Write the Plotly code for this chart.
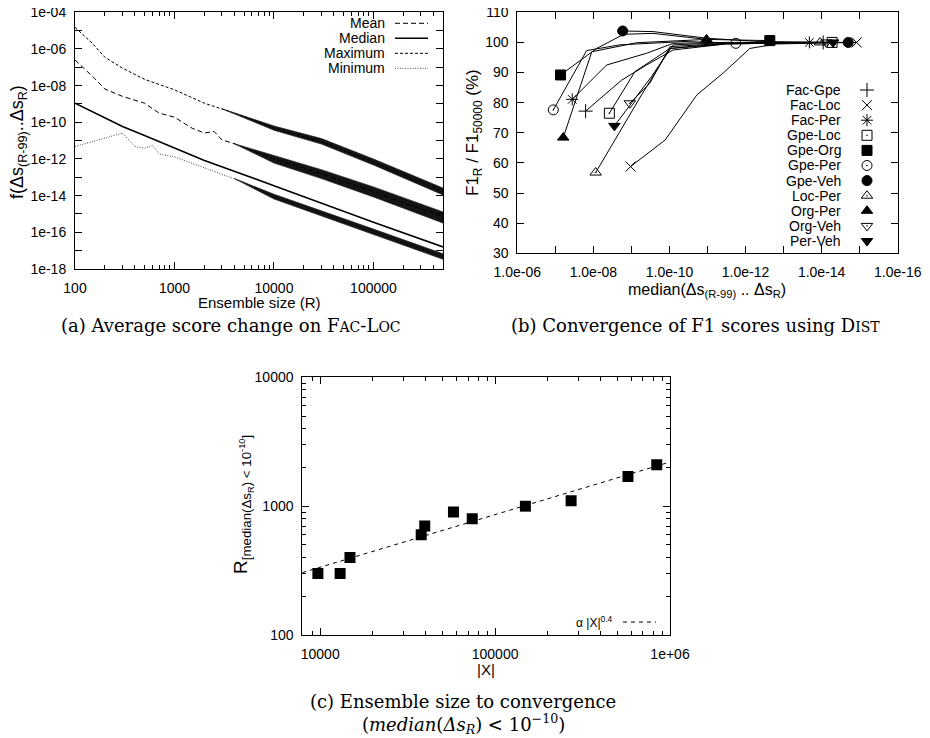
import math
import plotly.graph_objects as go

W, H = 930, 738
OFF = 8  # page body margin in the browser

# ---------------- Panel (a): score change vs ensemble size ----------------
max_R = [100, 150, 200, 300, 500, 1000, 2000, 5000, 10000, 30000, 100000, 500000]
max_val = [1.5e-5, 2e-6, 3.5e-7, 9e-8, 2.2e-8, 5.9e-9, 1.1e-9, 2.1e-10, 4.8e-11, 8.9e-12, 6.7e-13, 1.7e-14]
max_band_R = [3000, 10000, 30000, 100000, 500000]
max_band_hi = [5.5e-10, 6.3e-11, 1.3e-11, 1.0e-12, 2.6e-14]
max_band_lo = [5.5e-10, 3.7e-11, 6.5e-12, 4.7e-13, 1.1e-14]

mean_R = [100, 150, 200, 300, 500, 700, 1000, 1500, 2000, 2500, 3000, 4000, 7000, 10000, 20000, 50000, 100000, 200000, 500000]
mean_val = [2.5e-7, 3.2e-8, 6.5e-9, 2.6e-9, 1.1e-9, 3.2e-10, 1.9e-10, 4.8e-11, 2.6e-11, 3.2e-11, 1.1e-11, 6.8e-12, 2.1e-12, 1e-12, 3.2e-13, 6e-14, 1.7e-14, 4e-15, 7.4e-16]
mean_band_R = [4000, 10000, 30000, 100000, 500000]
mean_band_hi = [6.8e-12, 1.5e-12, 2.6e-13, 3.0e-14, 1.3e-15]
mean_band_lo = [6.8e-12, 6.0e-13, 8.5e-14, 8.5e-15, 3.2e-16]

median_R = [100, 200, 300, 500, 1000, 2000, 10000, 100000, 500000]
median_val = [1.1e-9, 1.7e-10, 5.9e-11, 1.9e-11, 3.9e-12, 8.3e-13, 3.5e-14, 3.5e-16, 1.6e-17]

min_R = [100, 300, 400, 500, 600, 700, 1000, 2000, 3000, 5000, 10000, 100000, 500000]
min_val = [4.8e-12, 2.6e-11, 4.8e-12, 3.9e-12, 5.5e-12, 1.9e-12, 1.3e-12, 3.2e-13, 1.4e-13, 5.3e-14, 8.9e-15, 1.1e-16, 4.9e-18]
min_band_R = [4000, 10000, 100000, 500000]
min_band_hi = [8.5e-14, 1.2e-14, 1.5e-16, 6.8e-18]
min_band_lo = [8.5e-14, 6.6e-15, 7.5e-17, 3.4e-18]

a_xticks = [100, 1000, 10000, 100000]
a_xticktext = ["100", "1000", "10000", "100000"]
a_yticks = [1e-4, 1e-6, 1e-8, 1e-10, 1e-12, 1e-14, 1e-16, 1e-18]
a_yticktext = ["1e-04", "1e-06", "1e-08", "1e-10", "1e-12", "1e-14", "1e-16", "1e-18"]
a_legend = ["Mean", "Median", "Maximum", "Minimum"]

# ---------------- Panel (b): convergence of F1 ----------------
fac_gpe_x = [1.6e-8, 1.8e-9, 4.0e-10, 8.0e-11, 3.2e-12, 9.1e-15]
fac_gpe_y = [77.2, 87.5, 92.5, 97.5, 99.5, 100.0]
fac_loc_x = [1.05e-9, 1.3e-10, 1.9e-11, 3.9e-12, 7.7e-13, 1.5e-13, 1.2e-15]
fac_loc_y = [58.8, 67.6, 82.6, 89.8, 98.0, 99.5, 100.0]
fac_per_x = [3.6e-8, 4.5e-9, 4.0e-10, 8.0e-11, 3.2e-12, 2.1e-14]
fac_per_y = [81.1, 92.5, 96.4, 99.7, 100.0, 100.0]
gpe_loc_x = [3.8e-9, 8.1e-10, 9.7e-11, 3.2e-12, 5.3e-15]
gpe_loc_y = [76.5, 90.3, 98.0, 99.5, 100.0]
gpe_org_x = [7.3e-8, 8.2e-9, 1.6e-9, 2.7e-10, 1.06e-11, 2.3e-13]
gpe_org_y = [89.2, 98.0, 102.7, 103.0, 101.0, 100.6]
gpe_per_x = [1.13e-7, 1.5e-8, 2.0e-9, 3.9e-11, 1.8e-12]
gpe_per_y = [77.6, 97.3, 99.2, 100.3, 99.7]
gpe_veh_x = [1.7e-9, 2.7e-10, 1.06e-11, 4.2e-13, 2.0e-15]
gpe_veh_y = [103.8, 103.6, 101.4, 100.3, 100.0]
loc_per_x = [8.7e-9, 5.4e-10, 9.7e-11, 3.2e-12, 1.1e-14]
loc_per_y = [56.8, 82.6, 98.0, 99.7, 100.0]
org_per_x = [6.2e-8, 1.1e-8, 7.3e-10, 1.06e-11]
org_per_y = [68.4, 96.9, 99.9, 101.0]
org_veh_x = [1.1e-9, 3.3e-10, 9.7e-11, 3.2e-12, 7.5e-15]
org_veh_y = [79.8, 86.4, 98.6, 99.7, 100.0]
per_veh_x = [2.8e-9, 3.0e-10, 8.0e-11, 3.2e-12, 5.0e-15]
per_veh_y = [72.3, 88.6, 99.2, 99.9, 100.0]

b_names = ["Fac-Gpe", "Fac-Loc", "Fac-Per", "Gpe-Loc", "Gpe-Org", "Gpe-Per",
           "Gpe-Veh", "Loc-Per", "Org-Per", "Org-Veh", "Per-Veh"]
b_xs = [fac_gpe_x, fac_loc_x, fac_per_x, gpe_loc_x, gpe_org_x, gpe_per_x,
        gpe_veh_x, loc_per_x, org_per_x, org_veh_x, per_veh_x]
b_ys = [fac_gpe_y, fac_loc_y, fac_per_y, gpe_loc_y, gpe_org_y, gpe_per_y,
        gpe_veh_y, loc_per_y, org_per_y, org_veh_y, per_veh_y]
b_xticks = [1e-6, 1e-8, 1e-10, 1e-12, 1e-14, 1e-16]
b_xticktext = ["1.0e-06", "1.0e-08", "1.0e-10", "1.0e-12", "1.0e-14", "1.0e-16"]

# ---------------- Panel (c): ensemble size to convergence ----------------
c_X = [9700, 13000, 14800, 37800, 39600, 57800, 74000, 149000, 272000, 575000, 840000]
c_R = [300, 300, 400, 600, 700, 900, 800, 1000, 1100, 1700, 2100]
fit_X = [7900, 1000000]
fit_R = [305, 2200]
c_xticks = [10000, 100000, 1000000]
c_xticktext = ["10000", "100000", "1e+06"]
c_yticks = [100, 1000, 10000]
c_yticktext = ["100", "1000", "10000"]

# ---------------- styling ----------------
SANS = "Liberation Sans"
SERIF = "DejaVu Serif"
b_symbols = ["cross-thin-open", "x-thin-open", "asterisk-open", "square-open-dot", "square",
             "circle-open-dot", "circle", "triangle-up-open-dot", "triangle-up",
             "triangle-down-open-dot", "triangle-down"]
a_dashes = ["5px,3px", "solid", "3px,2px", "1px,1.5px"]
a_widths = [1, 1.6, 1, 1]
a_colors = ["black", "black", "black", "#444"]


def px(x):
    return (x - OFF) / W


def py(y):
    return 1 - (y - OFF) / H


fig = go.Figure()

# panel (a)
fig.add_trace(go.Scatter(x=max_R, y=max_val, mode="lines", xaxis="x", yaxis="y",
                         line=dict(color=a_colors[2], width=a_widths[2], dash=a_dashes[2])))
fig.add_trace(go.Scatter(x=mean_R, y=mean_val, mode="lines", xaxis="x", yaxis="y",
                         line=dict(color=a_colors[0], width=a_widths[0], dash=a_dashes[0])))
fig.add_trace(go.Scatter(x=median_R, y=median_val, mode="lines", xaxis="x", yaxis="y",
                         line=dict(color=a_colors[1], width=a_widths[1], dash=a_dashes[1])))
fig.add_trace(go.Scatter(x=min_R, y=min_val, mode="lines", xaxis="x", yaxis="y",
                         line=dict(color=a_colors[3], width=a_widths[3], dash=a_dashes[3])))
for bR, hi, lo in [(max_band_R, max_band_hi, max_band_lo),
                   (mean_band_R, mean_band_hi, mean_band_lo),
                   (min_band_R, min_band_hi, min_band_lo)]:
    fig.add_trace(go.Scatter(x=bR + bR[::-1], y=hi + lo[::-1], mode="lines", fill="toself",
                             fillcolor="rgba(0,0,0,0.92)", xaxis="x", yaxis="y",
                             line=dict(color="rgba(30,30,30,0.7)", width=1)))

# panel (b)
for xs, ys, sym in zip(b_xs, b_ys, b_symbols):
    fig.add_trace(go.Scatter(x=xs, y=ys, mode="lines", xaxis="x2", yaxis="y2",
                             line=dict(color="black", width=1)))
    fig.add_trace(go.Scatter(x=[xs[0], xs[-1]], y=[ys[0], ys[-1]], mode="markers",
                             xaxis="x2", yaxis="y2",
                             marker=dict(symbol=sym, size=10, color="black",
                                         line=dict(color="black", width=1))))

# panel (c)
fig.add_trace(go.Scatter(x=fit_X, y=fit_R, mode="lines", xaxis="x3", yaxis="y3",
                         line=dict(color="black", width=1, dash="4px,4px")))
fig.add_trace(go.Scatter(x=c_X, y=c_R, mode="markers", xaxis="x3", yaxis="y3",
                         marker=dict(symbol="square", size=11, color="black")))

# legend (b) symbols on an invisible overlay axis in screen-pixel units
LEG_B_X, LEG_B_TOP, LEG_B_STEP = 867, 90, 15.1
for i, sym in enumerate(b_symbols):
    fig.add_trace(go.Scatter(x=[LEG_B_X], y=[LEG_B_TOP + i * LEG_B_STEP], mode="markers",
                             xaxis="x4", yaxis="y4",
                             marker=dict(symbol=sym, size=10, color="black",
                                         line=dict(color="black", width=1))))

axis_common = dict(showline=True, linecolor="black", linewidth=1, mirror="allticks",
                   ticks="inside", ticklen=7, tickwidth=1, tickcolor="black",
                   showgrid=False, zeroline=False, automargin=False,
                   ticklabeloverflow="allow",
                   tickfont=dict(family=SANS, size=14, color="black"))
minor_common = dict(ticks="inside", ticklen=4, tickwidth=1, tickcolor="black", showgrid=False)

a_xminor = [m * 10 ** e for e in range(2, 6) for m in range(2, 10) if m * 10 ** e <= 500000]
a_yminor = [10.0 ** (-e) for e in range(5, 18, 2)]
b_xminor = [10.0 ** (-e) for e in range(7, 16, 2)]
c_xminor = [8000, 9000] + [m * 10 ** e for e in (4, 5) for m in range(2, 10)]
c_yminor = [m * 10 ** e for e in (2, 3) for m in range(2, 10)]

fig.update_layout(
    width=W, height=H, margin=dict(l=0, r=0, t=0, b=0, autoexpand=False),
    paper_bgcolor="white", plot_bgcolor="rgba(0,0,0,0)", showlegend=False,
    xaxis=dict(axis_common, type="log", range=[2, math.log10(500000)], domain=[px(75), px(443)],
               anchor="y", tickmode="array", tickvals=a_xticks, ticktext=a_xticktext,
               ticklabelstandoff=6, minor=dict(minor_common, tickvals=a_xminor)),
    yaxis=dict(axis_common, type="log", range=[-18, -4], domain=[py(269), py(12.3)],
               anchor="x", tickmode="array", tickvals=a_yticks, ticktext=a_yticktext,
               ticklabelstandoff=5, minor=dict(minor_common, tickvals=a_yminor, ticklen=7)),
    xaxis2=dict(axis_common, type="log", range=[-6, -16], domain=[px(517.3), px(897.7)],
                anchor="y2", tickmode="array", tickvals=b_xticks, ticktext=b_xticktext,
                ticklabelstandoff=6, minor=dict(minor_common, tickvals=b_xminor, ticklen=7)),
    yaxis2=dict(axis_common, range=[30, 110], domain=[py(253.3), py(12.3)], anchor="x2",
                tickmode="linear", tick0=30, dtick=10, ticklabelstandoff=5),
    xaxis3=dict(axis_common, type="log", range=[math.log10(7900), 6], domain=[px(302.3), px(670)],
                anchor="y3", tickmode="array", tickvals=c_xticks, ticktext=c_xticktext,
                ticklabelstandoff=6, minor=dict(minor_common, tickvals=c_xminor)),
    yaxis3=dict(axis_common, type="log", range=[2, 4], domain=[py(635), py(377.3)],
                anchor="x3", tickmode="array", tickvals=c_yticks, ticktext=c_yticktext,
                ticklabelstandoff=5, minor=dict(minor_common, tickvals=c_yminor)),
    xaxis4=dict(domain=[0, 1], range=[OFF, W + OFF], visible=False, anchor="y4",
                fixedrange=True, automargin=False),
    yaxis4=dict(domain=[0, 1], range=[H + OFF, OFF], visible=False, anchor="x4",
                fixedrange=True, automargin=False),
)

ann = []
shapes = []


def text(x, y, s, size=14, family=SANS, xanchor="center", angle=0):
    ann.append(dict(x=px(x), y=py(y), xref="paper", yref="paper", text=s, showarrow=False,
                    xanchor=xanchor, yanchor="middle", textangle=angle,
                    font=dict(family=family, size=size, color="black")))


# axis titles
text(259, 302, "Ensemble size (R)", size=15)
text(18, 142, "f(Δs<sub>(R-99)</sub>..Δs<sub>R</sub>)", size=18, angle=-90)
text(707, 291, "median(Δs<sub>(R-99)</sub> .. Δs<sub>R</sub>)", size=16)
text(474, 133, "F1<sub>R</sub> / F1<sub>50000</sub> (%)", size=17, angle=-90)
text(486, 669, "|X|", size=15)
text(243, 505, "R<sub>[median(Δs<sub>R</sub>) &lt; 10<sup>-10</sup>]</sub>", size=19, angle=-90)

# legend (a)
LEG_A_X, LEG_A_TOP, LEG_A_STEP = 387, 23.3, 15
a_leg_style = {"Mean": 0, "Median": 1, "Maximum": 2, "Minimum": 3}
for i, name in enumerate(a_legend):
    yy = LEG_A_TOP + i * LEG_A_STEP
    text(LEG_A_X, yy, name, size=14, xanchor="right")
    k = a_leg_style[name]
    shapes.append(dict(type="line", xref="paper", yref="paper", x0=px(395), x1=px(428),
                       y0=py(yy), y1=py(yy),
                       line=dict(color=a_colors[k], width=a_widths[k], dash=a_dashes[k])))

# legend (b)
for i, name in enumerate(b_names):
    text(843, LEG_B_TOP + i * LEG_B_STEP, name, size=14, xanchor="right")

# legend (c)
text(615, 622, "α |X|<sup>0.4</sup>", size=12, xanchor="right")
shapes.append(dict(type="line", xref="paper", yref="paper", x0=px(623), x1=px(656),
                   y0=py(622), y1=py(622), line=dict(color="black", width=1, dash="4px,4px")))

# captions
SC = "<span style='font-size:14px'>"
text(231, 325, "(a) Average score change on F" + SC + "AC</span>-L" + SC + "OC</span>",
     size=18, family=SERIF)
text(695, 325, "(b) Convergence of F1 scores using D" + SC + "IST</span>", size=18, family=SERIF)
text(463, 701, "(c) Ensemble size to convergence", size=18, family=SERIF)
text(463, 724, "(<i>median</i>(<i>Δs</i><sub><i>R</i></sub>) &lt; 10<sup>−10</sup>)",
     size=18, family=SERIF)

fig.update_layout(annotations=ann, shapes=shapes)
fig.write_html("out.html")
